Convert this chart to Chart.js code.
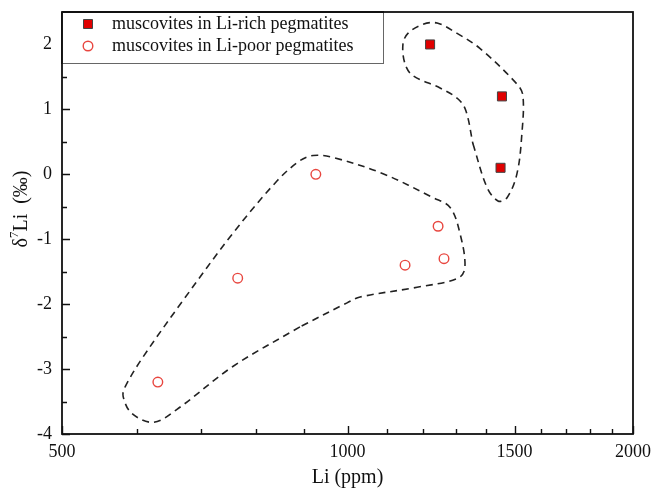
<!DOCTYPE html>
<html>
<head>
<meta charset="utf-8">
<title>d7Li vs Li in muscovites</title>
<script src="https://cdn.jsdelivr.net/npm/chart.js@4.4.1/dist/chart.umd.min.js"></script>
<style>
    html, body { margin: 0; padding: 0; background: #fff; }
    #wrap { width: 653px; height: 490px; }
</style>
</head>
<body>
<div id="wrap"><canvas id="chart" width="653" height="490"></canvas></div>
<script>
(function () {
    'use strict';

    // measured points
    var richLi = [1222, 1455, 1450];
    var richD7Li = [2.0, 1.2, 0.1];
    var poorLi = [631, 766, 926, 1150, 1246, 1264];
    var poorD7Li = [-3.2, -1.6, 0.0, -1.4, -0.8, -1.3];

    // hand drawn envelopes (closed, first point repeated at the end)
    var poorEnvLi = [891, 757, 661, 624, 592, 580, 583, 609, 671, 757, 843, 891, 920, 965, 1090, 1231, 1283, 1314, 1330, 1308, 1184, 1031, 999, 891];
    var poorEnvD7Li = [-2.35, -2.96, -3.62, -3.82, -3.68, -3.42, -3.27, -2.81, -1.94, -0.91, -0.10, 0.21, 0.29, 0.26, 0.01, -0.36, -0.51, -0.91, -1.43, -1.60, -1.74, -1.89, -1.98, -2.35];
    var richEnvLi = [1356, 1403, 1441, 1473, 1509, 1527, 1531, 1509, 1379, 1305, 1243, 1201, 1158, 1144, 1150, 1172, 1252, 1308, 1333, 1356];
    var richEnvD7Li = [0.47, -0.20, -0.41, -0.36, 0.01, 0.62, 1.21, 1.39, 1.94, 2.17, 2.33, 2.31, 2.17, 2.00, 1.70, 1.52, 1.33, 1.16, 0.98, 0.47];

    // axes
    var xMajorTicks = [500, 1000, 1500, 2000];
    var xMinorTicks = [600, 700, 800, 900, 1100, 1200, 1300, 1400, 1600, 1700, 1800, 1900];
    var yMajorTicks = [-4, -3, -2, -1, 0, 1, 2];
    var yMinorTicks = [-3.5, -2.5, -1.5, -0.5, 0.5, 1.5];

    var seriesLabels = ['muscovites in Li-rich pegmatites', 'muscovites in Li-poor pegmatites'];

    var serif = "'Liberation Serif', 'Times New Roman', serif";

    function toPoints(xs, ys) {
        return xs.map(function (x, i) { return { x: x, y: ys[i] }; });
    }

    function envelope(xs, ys) {
        return {
            label: 'envelope',
            data: toPoints(xs, ys),
            showLine: true,
            borderColor: '#222',
            borderWidth: 1.6,
            borderDash: [7, 5],
            tension: 0.35,
            pointRadius: 0,
            fill: false
        };
    }

    // no extra room for overhanging tick labels, the layout padding handles it
    function noLabelPadding(scale) {
        scale.paddingLeft = 0;
        scale.paddingRight = 0;
        scale.paddingTop = 0;
        scale.paddingBottom = 0;
    }

    var frameTicks = {
        id: 'frameTicks',
        afterDatasetsDraw: function (chart) {
            var ctx = chart.ctx, a = chart.chartArea;
            var xs = chart.scales.x, ys = chart.scales.y;
            ctx.save();
            ctx.strokeStyle = '#111';
            ctx.lineWidth = 1.4;
            ctx.beginPath();
            xMajorTicks.forEach(function (v) {
                var p = Math.round(xs.getPixelForValue(v)) + 0.5;
                ctx.moveTo(p, a.bottom); ctx.lineTo(p, a.bottom - 8);
            });
            xMinorTicks.forEach(function (v) {
                var p = Math.round(xs.getPixelForValue(v)) + 0.5;
                ctx.moveTo(p, a.bottom); ctx.lineTo(p, a.bottom - 5);
            });
            yMajorTicks.forEach(function (v) {
                var p = Math.round(ys.getPixelForValue(v)) + 0.5;
                ctx.moveTo(a.left, p); ctx.lineTo(a.left + 8, p);
            });
            yMinorTicks.forEach(function (v) {
                var p = Math.round(ys.getPixelForValue(v)) + 0.5;
                ctx.moveTo(a.left, p); ctx.lineTo(a.left + 5, p);
            });
            ctx.stroke();
            ctx.lineWidth = 1.8;
            ctx.strokeRect(a.left, a.top, a.right - a.left, a.bottom - a.top);
            ctx.restore();
        }
    };

    var boxLegend = {
        id: 'boxLegend',
        afterDraw: function (chart) {
            var ctx = chart.ctx, a = chart.chartArea;
            var sets = chart.data.datasets;
            ctx.save();
            ctx.fillStyle = '#fff';
            ctx.fillRect(a.left, a.top, 321, 51);
            ctx.strokeStyle = '#666';
            ctx.lineWidth = 1;
            ctx.strokeRect(a.left + 0.5, a.top + 0.5, 321, 51);
            ctx.lineWidth = 1.8;
            ctx.strokeStyle = '#111';
            ctx.beginPath();
            ctx.moveTo(a.left, a.top); ctx.lineTo(a.left, a.top + 52);
            ctx.moveTo(a.left, a.top); ctx.lineTo(a.left + 322, a.top);
            ctx.stroke();

            [0, 1].forEach(function (i) {
                var ds = sets[i];
                var cy = a.top + 12 + i * 22;
                var cx = a.left + 26;
                ctx.lineWidth = ds.borderWidth;
                ctx.strokeStyle = ds.borderColor;
                ctx.fillStyle = ds.backgroundColor;
                ctx.beginPath();
                if (ds.pointStyle === 'rect') {
                    ctx.rect(cx - 4.5, cy - 4.5, 9, 9);
                } else {
                    ctx.arc(cx, cy, ds.pointRadius, 0, Math.PI * 2);
                }
                ctx.fill();
                ctx.stroke();
                ctx.fillStyle = '#111';
                ctx.font = '18px ' + serif;
                ctx.textBaseline = 'middle';
                ctx.textAlign = 'left';
                ctx.fillText(ds.label, a.left + 50, cy);
            });
            ctx.restore();
        }
    };

    var yTitle = {
        id: 'yTitle',
        afterDraw: function (chart) {
            var ctx = chart.ctx;
            var big = '20px ' + serif, small = '13px ' + serif;
            var parts = [['\u03b4', big, 0], ['7', small, -7], ['Li  (\u2030)', big, 0]];
            ctx.save();
            var total = 0;
            parts.forEach(function (p) { ctx.font = p[1]; total += ctx.measureText(p[0]).width; });
            ctx.translate(22, 209);
            ctx.rotate(-Math.PI / 2);
            ctx.fillStyle = '#111';
            ctx.textBaseline = 'middle';
            ctx.textAlign = 'left';
            var x = -total / 2;
            parts.forEach(function (p) {
                ctx.font = p[1];
                ctx.fillText(p[0], x, p[2]);
                x += ctx.measureText(p[0]).width;
            });
            ctx.restore();
        }
    };

    new Chart(document.getElementById('chart'), {
        type: 'scatter',
        data: {
            datasets: [
                {
                    label: seriesLabels[0],
                    data: toPoints(richLi, richD7Li),
                    pointStyle: 'rect',
                    pointRadius: 6.4,
                    backgroundColor: '#e00000',
                    borderColor: '#444',
                    borderWidth: 1
                },
                {
                    label: seriesLabels[1],
                    data: toPoints(poorLi, poorD7Li),
                    pointStyle: 'circle',
                    pointRadius: 4.8,
                    backgroundColor: 'rgba(255,255,255,0)',
                    borderColor: '#e8463f',
                    borderWidth: 1.4
                },
                envelope(poorEnvLi, poorEnvD7Li),
                envelope(richEnvLi, richEnvD7Li)
            ]
        },
        options: {
            responsive: false,
            animation: false,
            layout: { padding: { top: 12, right: 20, left: 0, bottom: 0 } },
            plugins: {
                legend: { display: false },
                tooltip: { enabled: false }
            },
            scales: {
                x: {
                    type: 'logarithmic',
                    min: 500,
                    max: 2000,
                    grid: { display: false, drawTicks: false },
                    border: { display: false },
                    afterBuildTicks: function (scale) {
                        scale.ticks = xMajorTicks.map(function (v) { return { value: v }; });
                    },
                    afterFit: function (scale) {
                        scale.height = 56;
                        noLabelPadding(scale);
                    },
                    ticks: {
                        autoSkip: false,
                        maxRotation: 0,
                        padding: 7,
                        color: '#111',
                        font: { family: serif, size: 18 },
                        callback: function (v) { return String(v); }
                    },
                    title: {
                        display: true,
                        text: 'Li (ppm)',
                        color: '#111',
                        padding: { top: 0, bottom: 0 },
                        font: { family: serif, size: 20 }
                    }
                },
                y: {
                    min: -4,
                    max: 2.5,
                    grid: { display: false, drawTicks: false },
                    border: { display: false },
                    afterBuildTicks: function (scale) {
                        scale.ticks = yMajorTicks.map(function (v) { return { value: v }; });
                    },
                    afterFit: function (scale) {
                        scale.width = 62;
                        noLabelPadding(scale);
                    },
                    ticks: {
                        padding: 10,
                        color: '#111',
                        font: { family: serif, size: 18 },
                        callback: function (v) { return String(v); }
                    }
                }
            }
        },
        plugins: [frameTicks, boxLegend, yTitle]
    });
})();
</script>
</body>
</html>
